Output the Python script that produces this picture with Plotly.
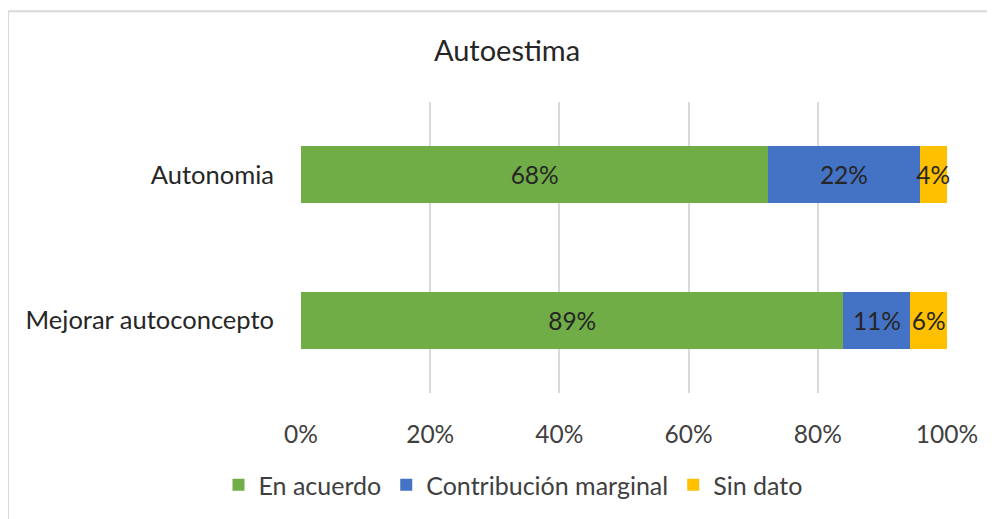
import plotly.graph_objects as go

categories = ["Mejorar autoconcepto", "Autonomia"]
series_names = ["En acuerdo", "Contribución marginal", "Sin dato"]
en_acuerdo = [89, 68]
contribucion = [11, 22]
sin_dato = [6, 4]
colors = ["#70AD47", "#4472C4", "#FFC000"]
tick_vals = [0, 20, 40, 60, 80, 100]
tick_text = ["0%", "20%", "40%", "60%", "80%", "100%"]

# page has an 8px body margin; figure coordinates = screen - 8
OFF = 8
W, H = 987, 511
L = 301 - OFF
T = 102 - OFF
R = W - (947 - OFF)
B = H - (394 - OFF)
FONT = "Lato"

fig = go.Figure()
for name, vals, col in zip(series_names, [en_acuerdo, contribucion, sin_dato], colors):
    fig.add_trace(go.Bar(
        y=categories, x=vals, name=name, orientation="h",
        marker=dict(color=col, line=dict(width=0)),
        text=[f"{v}%" for v in vals], textposition="inside", textangle=0,
        insidetextanchor="middle", constraintext="none",
        textfont=dict(color="#262626", size=24.5, family=FONT),
        cliponaxis=False,
    ))

def px_x(p):
    return (p - OFF - L) / (W - L - R)

def px_y(p):
    return 1 - (p - OFF - T) / (H - T - B)

fig.update_layout(
    width=W, height=H,
    barmode="stack", barnorm="percent", bargap=0.61,
    margin=dict(l=L, r=R, t=T, b=B),
    paper_bgcolor="white", plot_bgcolor="white",
    font=dict(family=FONT, color="#404040", size=24),
    uniformtext=dict(minsize=24.5, mode="show"),
    title=dict(text="Autoestima", x=px_x(507), xanchor="center", xref="paper",
               y=1 - (51 - OFF) / H, yanchor="middle",
               font=dict(size=29, color="#262626", family=FONT)),
    xaxis=dict(range=[0, 100], tickvals=tick_vals, ticktext=tick_text,
               showgrid=True, gridcolor="#D9D9D9", gridwidth=2, zeroline=False,
               showline=False, ticks="", ticklabelstandoff=24,
               tickfont=dict(size=24.5, color="#404040")),
    yaxis=dict(showgrid=False, zeroline=False, showline=False, ticks="",
               ticklabelstandoff=26, tickfont=dict(size=25.5, color="#262626")),
    legend=dict(orientation="h", x=px_x(513), xanchor="center", y=px_y(485), yanchor="middle",
                font=dict(size=25, color="#404040"), traceorder="normal",
                itemwidth=30, tracegroupgap=0),
    shapes=[
        dict(type="line", xref="paper", yref="paper", x0=px_x(7), x1=px_x(995),
             y0=px_y(11), y1=px_y(11), line=dict(color="#D9D9D9", width=2)),
        dict(type="line", xref="paper", yref="paper", x0=px_x(8), x1=px_x(8),
             y0=px_y(11), y1=px_y(525), line=dict(color="#D9D9D9", width=2)),
    ],
)

fig.write_html("out.html")
